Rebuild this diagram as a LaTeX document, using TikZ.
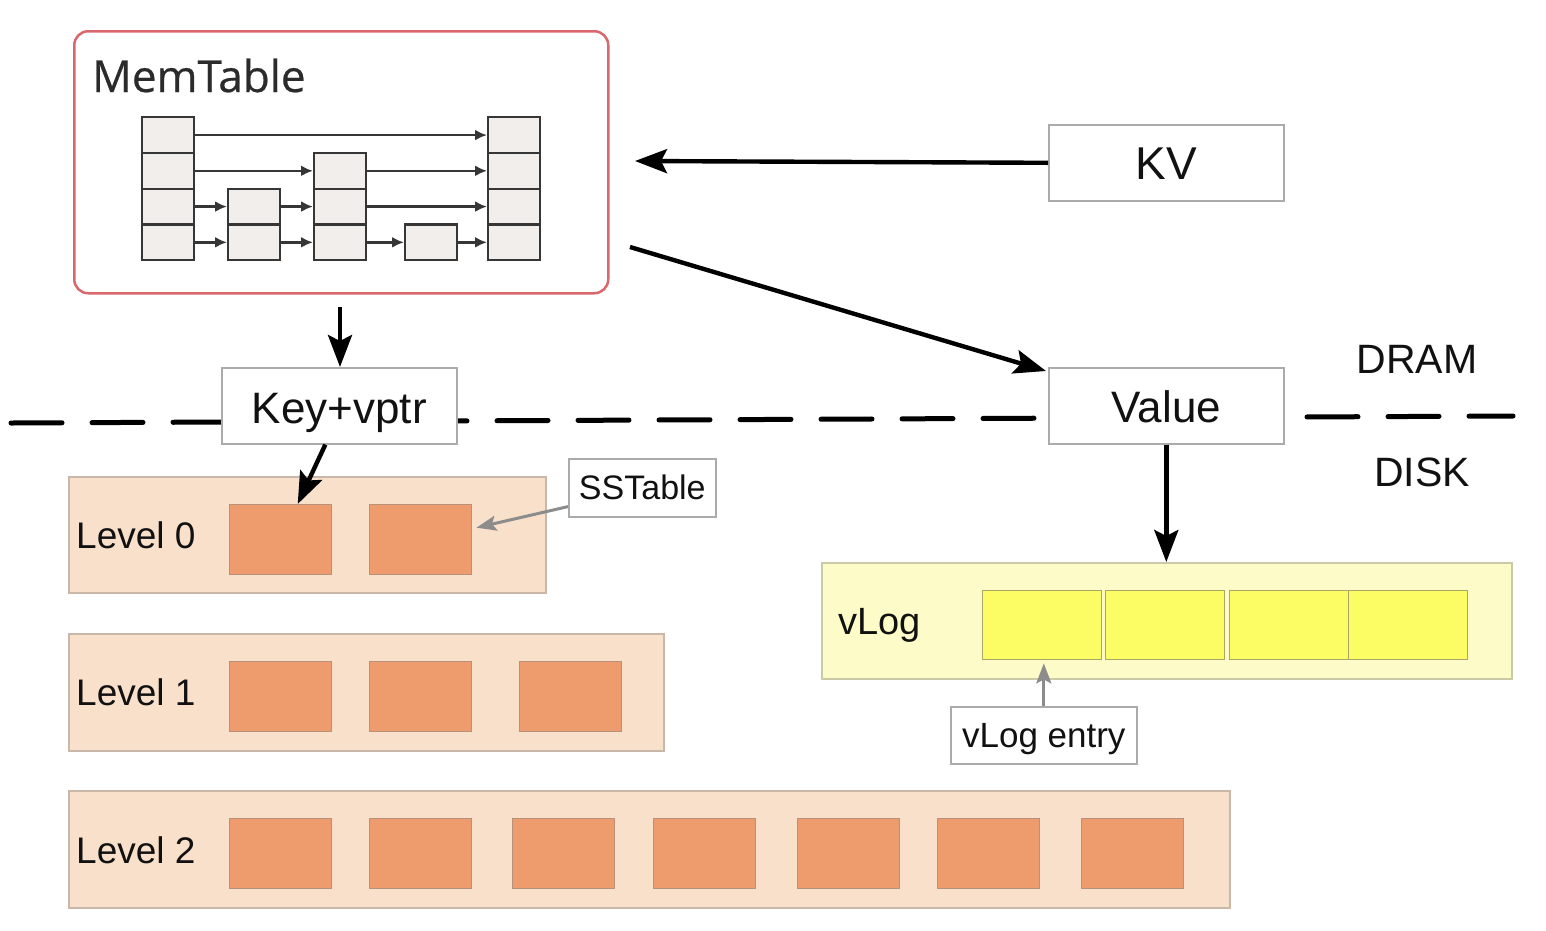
\documentclass[tikz,border=0pt]{standalone}
\usepackage{fontspec}
\setmainfont{Liberation Sans}
\newfontfamily\memfont[FakeBold=0.5]{Open Sans}
\usetikzlibrary{arrows.meta,calc}
\definecolor{peach}{HTML}{F9E0CB}
\definecolor{peachline}{HTML}{C9B7A9}
\definecolor{salmon}{HTML}{EE9C6E}
\definecolor{salmonline}{HTML}{B8917B}
\definecolor{paleyel}{HTML}{FDFCC8}
\definecolor{paleyelline}{HTML}{CACAA6}
\definecolor{yel}{HTML}{FCFC64}
\definecolor{yelline}{HTML}{ABA566}
\definecolor{boxgray}{HTML}{ABABAB}
\definecolor{memred}{HTML}{D9686C}
\definecolor{cellfill}{HTML}{F1EEEC}
\definecolor{cellline}{HTML}{363636}
\definecolor{txt}{HTML}{111111}
\definecolor{memtxt}{HTML}{2B2B2B}
\definecolor{arrgray}{HTML}{8C8C8C}
\begin{document}
\begin{tikzpicture}[x=1pt,y=-1pt,
  every node/.style={inner sep=0pt, text=txt},
  rectnw/.style={anchor=north west, inner sep=0pt},
  cell/.style={rectnw, draw=cellline, fill=cellfill, line width=2.4pt,
    minimum width=52pt, minimum height=35.75pt},
  sl/.style={draw=cellline, line width=2.4pt, -{Latex[length=12pt,width=11pt]}},
  wbox/.style={rectnw, draw=boxgray, fill=white, line width=1.6pt},
  level/.style={rectnw, draw=peachline, fill=peach, line width=1.6pt},
  sst/.style={rectnw, draw=salmonline, fill=salmon, line width=1.4pt,
    minimum width=102pt, minimum height=70pt},
  entry/.style={rectnw, draw=yelline, fill=yel, line width=1.4pt,
    minimum width=119pt, minimum height=69pt},
  arr/.style={line width=4.4pt, -{Stealth[length=32pt,width=24pt,inset=6pt]}},
  garr/.style={draw=arrgray, line width=3pt, -{Stealth[length=20pt,width=15pt,inset=4pt]}},
  big/.style={font=\fontsize{44}{50}\selectfont, text height=31.5pt, text depth=0pt},
  mid/.style={font=\fontsize{37}{44}\selectfont, text height=26.5pt, text depth=0pt},
  small/.style={font=\fontsize{34}{40}\selectfont, text height=24.3pt, text depth=0pt}
]
\useasboundingbox (0,0) rectangle (1546,930);

% DRAM / DISK separator
\coordinate (dl) at (11,423);
\coordinate (dr) at (1513,416);
\draw[line width=5pt, line cap=round, dash pattern=on 51pt off 30pt] (dl) -- (dr);

% MemTable
\node[rectnw, draw=memred, fill=white, line width=2.5pt, rounded corners=14pt,
  minimum width=534pt, minimum height=262pt] (mem) at (73,30) {};
\node[anchor=base west, font=\memfont\fontsize{44}{50}\selectfont, text=memtxt] (memlbl) at (92,92) {MemTable};

% skip list cells
\foreach \r/\y in {1/116,2/151.75,3/187.5,4/223.25} {
  \node[cell] (c1r\r) at (141,\y) {};
  \node[cell] (c5r\r) at (487,\y) {};
}
\foreach \r/\y in {3/187.5,4/223.25} { \node[cell] (c2r\r) at (227,\y) {}; }
\foreach \r/\y in {2/151.75,3/187.5,4/223.25} { \node[cell] (c3r\r) at (313,\y) {}; }
\node[cell] (c4r4) at (404,223.25) {};

\draw[sl] (c1r1) -- (c5r1);
\draw[sl] (c1r2) -- (c3r2);
\draw[sl] (c3r2) -- (c5r2);
\draw[sl] (c1r3) -- (c2r3);
\draw[sl] (c2r3) -- (c3r3);
\draw[sl] (c3r3) -- (c5r3);
\draw[sl] (c1r4) -- (c2r4);
\draw[sl] (c2r4) -- (c3r4);
\draw[sl] (c3r4) -- (c4r4);
\draw[sl] (c4r4) -- (c5r4);

% DRAM boxes
\node[wbox, minimum width=235pt, minimum height=76pt] (kv) at (1048,124) {};
\node[big, font=\fontsize{46}{52}\selectfont, text height=33pt] (kvt) at (kv.center) {KV};
\node[wbox, minimum width=235pt, minimum height=76pt] (key) at (221,367) {};
\node[big] (keyt) at ($(key.center)+(0,2)$) {Key+vptr};
\node[wbox, minimum width=235pt, minimum height=76pt] (val) at (1048,367) {};
\node[big] (valt) at ($(val.center)+(0,1)$) {Value};

\node[font=\fontsize{41}{48}\selectfont, text height=29pt, text depth=0pt] (dram) at (1417,359) {DRAM};
\node[font=\fontsize{41}{48}\selectfont, text height=29pt, text depth=0pt] (disk) at (1422,472) {DISK};

% Levels
\node[level, minimum width=477pt, minimum height=116pt] (lv0) at (68,476) {};
\node[level, minimum width=595pt, minimum height=117pt] (lv1) at (68,633) {};
\node[level, minimum width=1161pt, minimum height=117pt] (lv2) at (68,790) {};
\node[mid, anchor=west] (lv0t) at (76,535) {Level 0};
\node[mid, anchor=west] (lv1t) at (76,692) {Level 1};
\node[mid, anchor=west] (lv2t) at (76,850) {Level 2};

\node[sst] (l0a) at (229,504) {};
\node[sst] (l0b) at (369,504) {};
\node[sst] (l1a) at (229,661) {};
\node[sst] (l1b) at (369,661) {};
\node[sst] (l1c) at (519,661) {};
\foreach \i/\x in {a/229,b/369,c/512,d/653,e/797,f/937,g/1081} {
  \node[sst] (l2\i) at (\x,818) {};
}

% SSTable label
\node[wbox, minimum width=147pt, minimum height=58pt] (sstl) at (568,458) {};
\node[small] (sstlt) at (sstl.center) {SSTable};

% vLog
\node[rectnw, draw=paleyelline, fill=paleyel, line width=1.6pt,
  minimum width=690pt, minimum height=116pt] (vlog) at (821,562) {};
\node[mid, font=\fontsize{38}{44}\selectfont, anchor=west] (vlogt) at (838,621) {vLog};
\node[entry] (e1) at (982,590) {};
\node[entry] (e2) at (1105,590) {};
\node[entry] (e3) at (1229,590) {};
\node[entry] (e4) at (1348,590) {};

\node[wbox, minimum width=186pt, minimum height=57pt] (vel) at (950,706) {};
\node[small, font=\fontsize{35}{40}\selectfont] (velt) at (vel.center) {vLog entry};

% main arrows
\coordinate (mtin) at (635,161);
\coordinate (mtout) at (630,247);
\coordinate (mtdown) at (340,307);
\draw[arr] (kv.west) -- (mtin);
\draw[arr] (mtout) -- ($(val.north west)+(-2,4)$);
\draw[arr] (mtdown) -- (mtdown |- key.north);
\draw[arr] ($(key.south)+(-14,0)$) -- ($(l0a.north)+(17,0)$);
\draw[arr] (val.south) -- (val.south |- vlog.north);

% gray pointer arrows
\draw[garr] ($(sstl.south west)+(0,-11)$) -- ($(l0b.east)+(4,-12)$);
\draw[garr] (vel.north) -- ([yshift=-3pt]vel.north |- e1.south);
\end{tikzpicture}
\end{document}
